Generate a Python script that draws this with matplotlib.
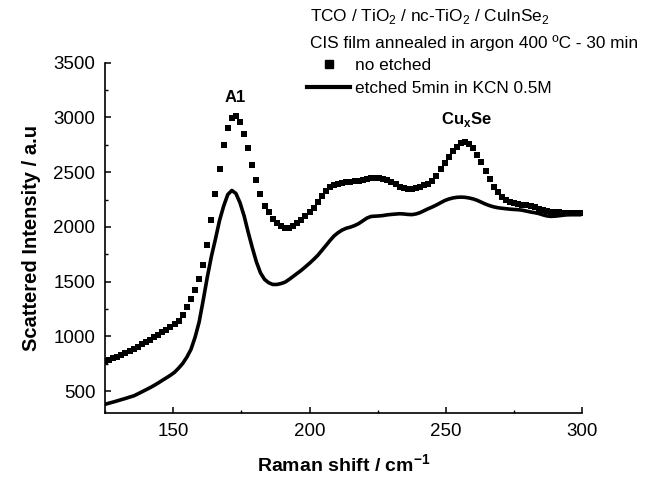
import numpy as np
import matplotlib.pyplot as plt
from matplotlib.lines import Line2D
from matplotlib.ticker import MultipleLocator

plt.rcParams['font.family'] = ['Liberation Sans', 'DejaVu Sans']
plt.rcParams['mathtext.fontset'] = 'custom'
plt.rcParams['mathtext.rm'] = 'Liberation Sans'
plt.rcParams['mathtext.bf'] = 'Liberation Sans:bold'

# Raman shift (cm-1) sampling
raman_shift = [125.0, 126.5, 128.0, 129.5, 131.0, 132.5, 134.0, 135.5, 137.0, 138.5,
               140.0, 141.5, 143.0, 144.5, 146.0, 147.5, 149.0, 150.5, 152.0, 153.5,
               155.0, 156.5, 158.0, 159.5, 161.0, 162.5, 164.0, 165.5, 167.0, 168.5,
               170.0, 171.5, 173.0, 174.5, 176.0, 177.5, 179.0, 180.5, 182.0, 183.5,
               185.0, 186.5, 188.0, 189.5, 191.0, 192.5, 194.0, 195.5, 197.0, 198.5,
               200.0, 201.5, 203.0, 204.5, 206.0, 207.5, 209.0, 210.5, 212.0, 213.5,
               215.0, 216.5, 218.0, 219.5, 221.0, 222.5, 224.0, 225.5, 227.0, 228.5,
               230.0, 231.5, 233.0, 234.5, 236.0, 237.5, 239.0, 240.5, 242.0, 243.5,
               245.0, 246.5, 248.0, 249.5, 251.0, 252.5, 254.0, 255.5, 257.0, 258.5,
               260.0, 261.5, 263.0, 264.5, 266.0, 267.5, 269.0, 270.5, 272.0, 273.5,
               275.0, 276.5, 278.0, 279.5, 281.0, 282.5, 284.0, 285.5, 287.0, 288.5,
               290.0, 291.5, 293.0, 294.5, 296.0, 297.5, 299.0]

no_etched = [773, 785, 800, 815, 830, 847, 864, 881, 903, 926,
             950, 971, 993, 1016, 1039, 1061, 1084, 1110, 1142, 1192,
             1268, 1345, 1422, 1520, 1650, 1830, 2060, 2300, 2530, 2745,
             2900, 2995, 3015, 2960, 2850, 2720, 2565, 2425, 2300, 2190,
             2140, 2075, 2035, 2005, 1993, 1990, 2010, 2035, 2060, 2098,
             2135, 2175, 2225, 2278, 2330, 2362, 2385, 2396, 2402, 2406,
             2411, 2416, 2422, 2428, 2436, 2444, 2446, 2444, 2438, 2425,
             2408, 2388, 2365, 2352, 2347, 2348, 2355, 2365, 2378, 2393,
             2420, 2465, 2525, 2585, 2640, 2690, 2733, 2762, 2779, 2760,
             2722, 2660, 2590, 2515, 2440, 2365, 2315, 2275, 2250, 2230,
             2216, 2208, 2202, 2197, 2193, 2180, 2166, 2152, 2141, 2138,
             2135, 2132, 2131, 2130, 2128, 2127, 2126]

etched_kcn = [379, 390, 400, 411, 422, 433, 445, 456, 474, 493,
              512, 531, 552, 574, 598, 621, 645, 672, 710, 753,
              810, 880, 990, 1130, 1330, 1540, 1730, 1890, 2060, 2190,
              2295, 2333, 2305, 2220, 2100, 1950, 1810, 1680, 1580, 1520,
              1490, 1474, 1474, 1482, 1495, 1520, 1548, 1576, 1604, 1636,
              1668, 1703, 1740, 1785, 1830, 1876, 1918, 1948, 1972, 1988,
              1998, 2012, 2030, 2055, 2080, 2095, 2098, 2100, 2104, 2110,
              2114, 2117, 2120, 2118, 2114, 2112, 2118, 2130, 2148, 2166,
              2182, 2200, 2220, 2240, 2254, 2264, 2270, 2272, 2270, 2264,
              2255, 2242, 2225, 2208, 2194, 2183, 2175, 2170, 2166, 2162,
              2159, 2157, 2152, 2144, 2136, 2130, 2122, 2110, 2100, 2096,
              2098, 2102, 2107, 2110, 2111, 2111, 2111]

fig = plt.figure(figsize=(6.49, 4.78), dpi=100)
ax = fig.add_axes([0.1618, 0.136, 0.7355, 0.7329])

ax.plot(raman_shift, no_etched, 's', color='k', markersize=5.0, markeredgewidth=0)
ax.plot(raman_shift, etched_kcn, '-', color='k', linewidth=2.6)

ax.set_xlim(125, 300)
ax.set_ylim(300, 3500)
ax.xaxis.set_major_locator(MultipleLocator(50))
ax.xaxis.set_minor_locator(MultipleLocator(25))
ax.yaxis.set_major_locator(MultipleLocator(500))
ax.yaxis.set_minor_locator(MultipleLocator(250))
ax.set_yticks([500, 1000, 1500, 2000, 2500, 3000, 3500])

for side in ['top', 'right']:
    ax.spines[side].set_visible(False)
for side in ['left', 'bottom']:
    ax.spines[side].set_linewidth(1.2)
ax.tick_params(which='major', direction='in', length=4.5, width=1.1, labelsize=13.5, pad=7)
ax.tick_params(which='minor', direction='in', length=2.5, width=1.0)

ax.set_xlabel('Raman shift / cm$^{\\mathbf{-1}}$', fontsize=14, fontweight='bold', labelpad=10)
ax.set_ylabel('Scattered Intensity / a.u', fontsize=14.5, fontweight='bold', labelpad=9)

ax.text(172.7, 3186, 'A1', ha='center', va='center', fontsize=12, fontweight='bold')
ax.text(257.4, 2977, 'Cu$_\\mathbf{x}$Se', ha='center', va='center', fontsize=12, fontweight='bold')

fig.text(310 / 649, 1 - 17 / 478, 'TCO / TiO$_2$ / nc-TiO$_2$ / CuInSe$_2$', fontsize=12.4, va='center')
fig.text(310 / 649, 1 - 43 / 478, 'CIS film annealed in argon 400 \u00baC - 30 min', fontsize=12.4, va='center')

handles = [Line2D([], [], marker='s', linestyle='none', color='k', markersize=5.5),
           Line2D([], [], color='k', linewidth=3)]
labels = ['no etched', 'etched 5min in KCN 0.5M']
fig.legend(handles, labels, loc='upper left', bbox_to_anchor=(307 / 649, 1 - 58 / 478),
           frameon=False, fontsize=12.4, handlelength=2.5, handletextpad=0.3,
           labelspacing=0.45, borderpad=0, borderaxespad=0)

fig.savefig('out.png', dpi=100)
